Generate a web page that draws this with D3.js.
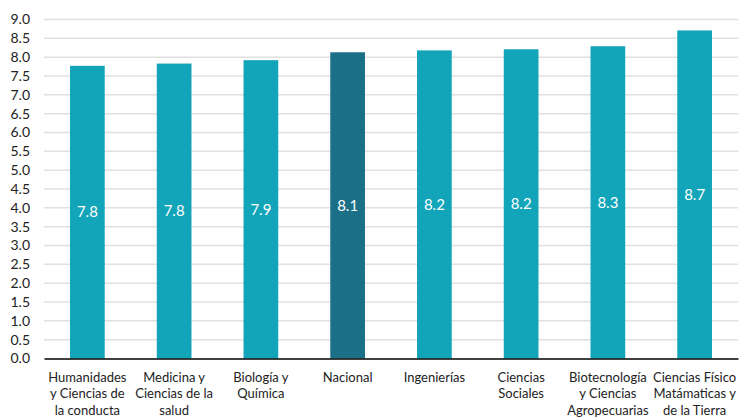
<!DOCTYPE html>
<html>
<head>
<meta charset="utf-8">
<script src="https://cdn.jsdelivr.net/npm/d3@7"></script>
<style>
  html, body { margin: 0; padding: 0; background: #fff; }
  svg { display: block; font-family: Lato, "Noto Sans", sans-serif; }
</style>
</head>
<body>
<svg id="chart" width="740" height="418"></svg>
<script>
const categories = [
  "Humanidades|y Ciencias de|la conducta",
  "Medicina y|Ciencias de la|salud",
  "Biología y|Química",
  "Nacional",
  "Ingenierías",
  "Ciencias|Sociales",
  "Biotecnología|y Ciencias|Agropecuarias",
  "Ciencias Físico|Matámaticas y|de la Tierra"
];
const values = [7.77, 7.83, 7.92, 8.13, 8.18, 8.21, 8.29, 8.71];
const valueLabels = ["7.8", "7.8", "7.9", "8.1", "8.2", "8.2", "8.3", "8.7"];
const highlight = ["Nacional"];
const yTicks = [0, 0.5, 1, 1.5, 2, 2.5, 3, 3.5, 4, 4.5, 5, 5.5, 6, 6.5, 7, 7.5, 8, 8.5, 9];

const svg = d3.select("#chart");
const margin = {left: 44, right: 2, top: 19.5, bottom: 59.5};
const W = 740, H = 418;

const x = d3.scaleBand()
  .domain(categories)
  .range([margin.left, W - margin.right])
  .paddingInner(0.6)
  .paddingOuter(0.3);

const y = d3.scaleLinear()
  .domain([0, 9])
  .range([H - margin.bottom, margin.top]);

// gridlines
svg.append("g")
  .selectAll("line")
  .data(yTicks.filter(d => d > 0))
  .join("line")
  .attr("x1", margin.left)
  .attr("x2", W - margin.right)
  .attr("y1", d => y(d))
  .attr("y2", d => y(d))
  .attr("stroke", "#e0e0e0")
  .attr("stroke-width", 1.5);

// y axis
const yAxis = d3.axisLeft(y)
  .tickValues(yTicks)
  .tickFormat(d3.format(".1f"))
  .tickSize(0)
  .tickPadding(14);
const gy = svg.append("g")
  .attr("transform", `translate(${margin.left},0)`)
  .call(yAxis);
gy.select(".domain").remove();
gy.selectAll("text")
  .attr("font-size", 14)
  .attr("font-family", "Lato, 'Noto Sans', sans-serif")
  .attr("fill", "#222");

// bars
svg.append("g")
  .selectAll("rect")
  .data(categories)
  .join("rect")
  .attr("x", d => x(d))
  .attr("width", x.bandwidth())
  .attr("y", (d, i) => y(values[i]))
  .attr("height", (d, i) => y(0) - y(values[i]))
  .attr("fill", d => highlight.includes(d) ? "#1b7088" : "#12a4b9");

// value labels
svg.append("g")
  .selectAll("text")
  .data(categories)
  .join("text")
  .attr("x", d => x(d) + x.bandwidth() / 2)
  .attr("y", (d, i) => (y(values[i]) + y(0)) / 2)
  .attr("dy", "0.35em")
  .attr("text-anchor", "middle")
  .attr("font-size", 15)
  .attr("fill", "#fff")
  .text((d, i) => valueLabels[i]);

// x axis
const xAxis = d3.axisBottom(x).tickSize(0).tickFormat("");
const gx = svg.append("g")
  .attr("transform", `translate(0,${y(0)})`)
  .call(xAxis);
gx.select(".domain")
  .attr("stroke", "#000")
  .attr("stroke-width", 1.5);

// category labels
const lab = svg.append("g")
  .selectAll("text")
  .data(categories)
  .join("text")
  .attr("x", d => x(d) + x.bandwidth() / 2)
  .attr("y", y(0) + 23)
  .attr("text-anchor", "middle")
  .attr("font-size", 13)
  .attr("fill", "#222");
lab.selectAll("tspan")
  .data(d => d.split("|").map(s => ({s, cx: x(d) + x.bandwidth() / 2})))
  .join("tspan")
  .attr("x", d => d.cx)
  .attr("dy", (d, i) => i === 0 ? 0 : 16.5)
  .text(d => d.s);
</script>
</body>
</html>
